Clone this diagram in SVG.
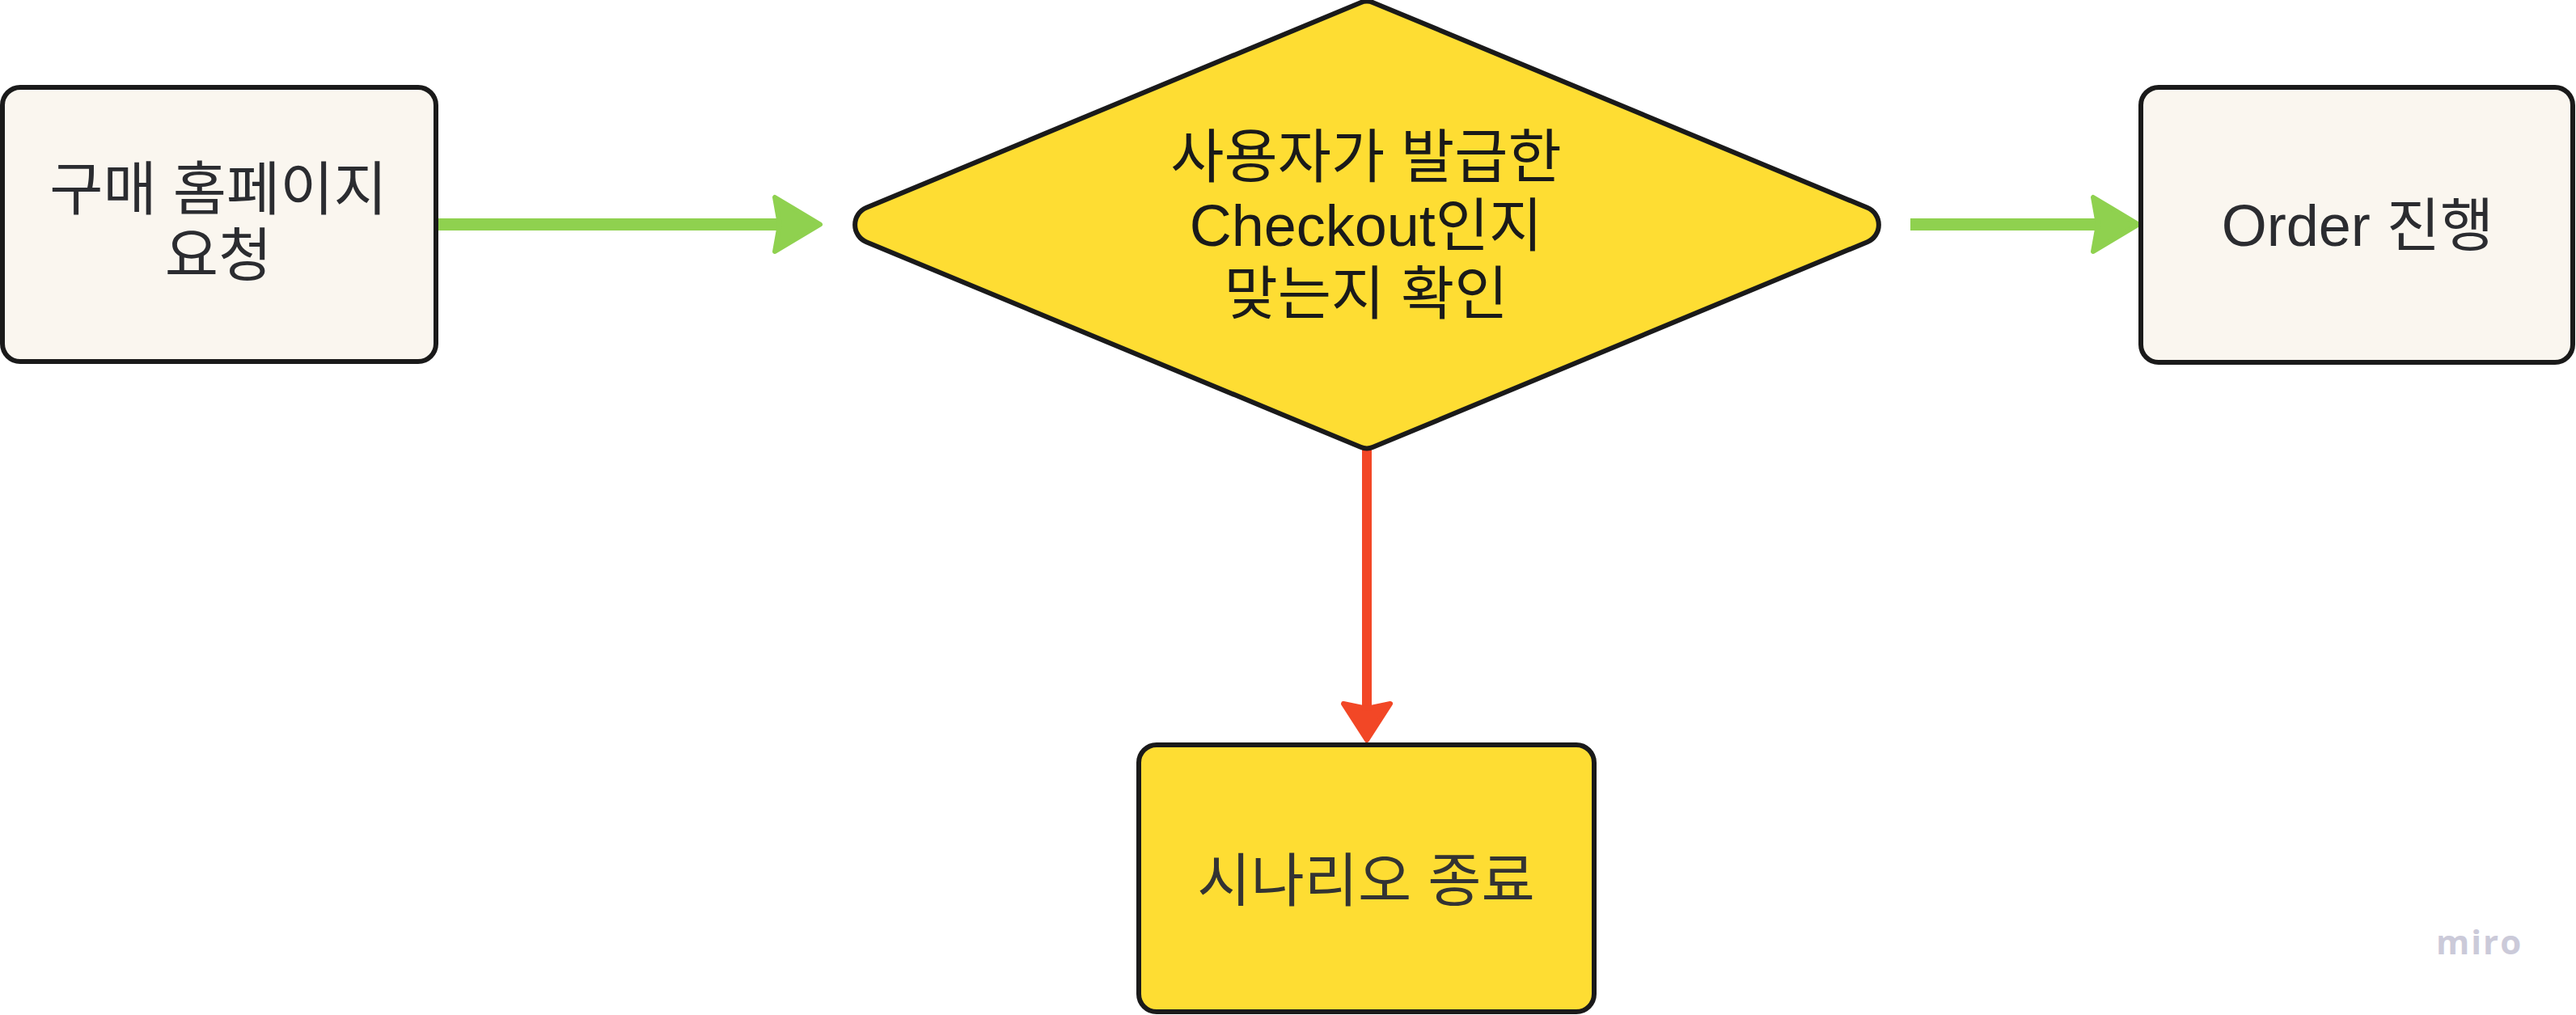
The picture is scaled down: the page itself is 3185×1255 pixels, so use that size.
<svg xmlns="http://www.w3.org/2000/svg" width="3185" height="1255" viewBox="0 0 3185 1255">
  <style>
    .box { stroke: #1a1a1a; stroke-width: 6; }
    .cream { fill: #faf6ef; }
    .yellow { fill: #fedd33; }
    .lbl { font-family: "Liberation Sans", "Noto Sans CJK KR", sans-serif; font-size: 72px; text-anchor: middle; }
    .dark { fill: #2b2c30; }
    .black { fill: #1a1a1a; }
    .green { stroke: #8fd14f; stroke-width: 15; fill: none; }
    .red { stroke: #f24726; stroke-width: 12; fill: none; }
    .logo { font-family: "Open Sans", "Noto Sans", sans-serif; font-size: 42px; font-weight: 700; letter-spacing: 2px; fill: #cbcad9; }
  </style>
  <defs>
    <marker id="headGreen" viewBox="-60 -60 120 120" markerWidth="120" markerHeight="120" refX="0" refY="0" orient="auto" markerUnits="userSpaceOnUse" overflow="visible">
      <path d="M50,0 L-6,-33.5 L0,0 L-6,33.5 Z" fill="#8fd14f" stroke="#8fd14f" stroke-width="6" stroke-linejoin="round"/>
    </marker>
    <marker id="headRed" viewBox="-60 -60 120 120" markerWidth="120" markerHeight="120" refX="0" refY="0" orient="auto" markerUnits="userSpaceOnUse" overflow="visible">
      <path d="M39,0 L-6,-29 L0,0 L-6,29 Z" fill="#f24726" stroke="#f24726" stroke-width="6" stroke-linejoin="round"/>
    </marker>
  </defs>

  <g id="connectors">
    <path class="green" d="M541,277.5 L964,277.5" marker-end="url(#headGreen)"/>
    <path class="green" d="M2362,277.5 L2594,277.5" marker-end="url(#headGreen)"/>
    <path class="red" d="M1690,556 L1690,876" marker-end="url(#headRed)"/>
  </g>

  <g id="node-request">
    <rect class="box cream" x="3" y="108" width="536" height="339" rx="22" ry="22"/>
    <text class="lbl dark" x="270" y="259">구매 홈페이지</text>
    <text class="lbl dark" x="270" y="341">요청</text>
  </g>

  <g id="node-check">
    <path class="box yellow" d="M1071.2,256.8 L1682.3,3.2 A20,20 0 0 1 1697.7,3.2 L2308.8,256.8 A23,23 0 0 1 2308.8,299.2 L1697.7,552.8 A20,20 0 0 1 1682.3,552.8 L1071.2,299.2 A23,23 0 0 1 1071.2,256.8 Z"/>
    <text class="lbl black" x="1689" y="219">사용자가 발급한</text>
    <text class="lbl black" x="1689" y="304">Checkout인지</text>
    <text class="lbl black" x="1689" y="388">맞는지 확인</text>
  </g>

  <g id="node-order">
    <rect class="box cream" x="2647" y="108" width="534" height="340" rx="22" ry="22"/>
    <text class="lbl dark" x="2915" y="304">Order 진행</text>
  </g>

  <g id="node-end">
    <rect class="box yellow" x="1408" y="921" width="563" height="330" rx="22" ry="22"/>
    <text class="lbl" fill="#333333" x="1689" y="1114">시나리오 종료</text>
  </g>

  <text class="logo" x="3012" y="1180">miro</text>
</svg>
